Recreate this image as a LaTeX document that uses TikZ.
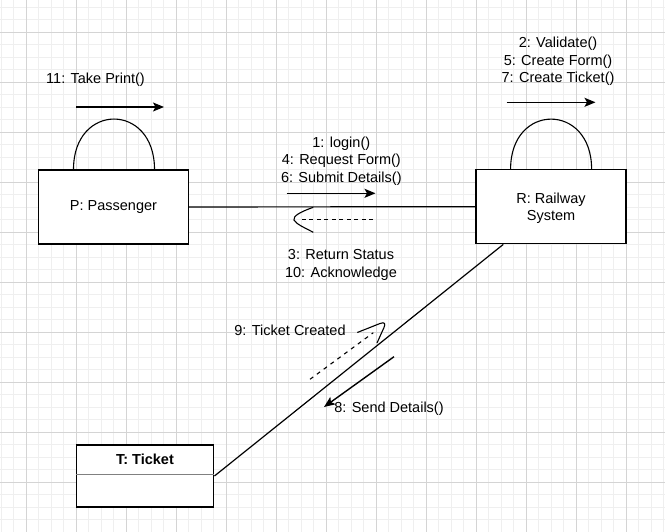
\documentclass[tikz,border=0pt]{standalone}
\usepackage{fontspec}
\setmainfont{Liberation Sans}
\usetikzlibrary{arrows.meta,positioning,calc}
\definecolor{gridminor}{HTML}{EFEFEF}
\definecolor{gridmajor}{HTML}{D4D4D4}
\newcommand{\msgfont}{\fontsize{14.5}{17.3}\selectfont}
\tikzset{
    object/.style={
        rectangle,
        draw,
        line width=1.4pt,
        fill=white,
        align=center,
        minimum width=150pt,
        minimum height=74pt,
        inner sep=0pt,
        font=\msgfont
    },
    msg/.style={
        -{Stealth[length=11pt,width=9pt,inset=2.5pt]},
        line width=1.4pt
    },
    reply/.style={
        line width=1.1pt,
        dash pattern=on 4pt off 3.5pt
    },
    lbl/.style={
        align=center,
        inner sep=0pt,
        font=\msgfont
    },
    link/.style={
        line width=1.2pt
    },
    selfloop/.style={
        line width=1.1pt
    }
}

\begin{document}
\begin{tikzpicture}[x=1pt, y=-1pt]
    \useasboundingbox (0,0) rectangle (665,532);
    \fill[white] (0,0) rectangle (665,532);
    \foreach \k in {0,...,53}
        \draw[gridminor, line width=1pt] ({1.3+12.5*\k},0) -- ++(0,532);
    \foreach \k in {0,...,41}
        \draw[gridminor, line width=1pt] (0,{7.3+12.5*\k}) -- ++(665,0);
    \foreach \k in {0,...,12}
        \draw[gridmajor, line width=1pt] ({26.3+50*\k},0) -- ++(0,532);
    \foreach \k in {0,...,9}
        \draw[gridmajor, line width=1pt] (0,{32.3+50*\k}) -- ++(665,0);

    \node[object] (pass) at (113.5,207) {P: Passenger};
    \node[object] (rail) at (551,206.7) {};
    \node[lbl] (rname) at (551,208.5) {R: Railway\\System};
    \node[object, minimum width=137.5pt, minimum height=62pt] (ticket) at (145,476) {};
    \node[lbl, font=\msgfont\bfseries] (tname) at (145,459) {T: Ticket};
    \coordinate (tdiv) at (0,474);
    \draw[gray, line width=1pt] (ticket.west |- tdiv) -- (ticket.east |- tdiv);

    \draw[link] (pass) -- (rail);
    \draw[link] ([xshift=28pt]rail.south west) -- (ticket.east);

    \draw[selfloop] ([xshift=-40pt]pass.north) .. controls +(0,-67) and +(0,-67) .. ([xshift=41pt]pass.north);
    \draw[selfloop] ([xshift=-40.4pt]rail.north) .. controls +(0,-66.5) and +(0,-66.5) .. ([xshift=40.6pt]rail.north);

    \coordinate (tp-s) at (76,107);
    \coordinate (tp-e) at (164,107);
    \draw[msg] (tp-s) -- (tp-e);
    \node[lbl] (tp-l) at (95.5,79.5) {11: Take Print()};

    \coordinate (rs-s) at (506.7,102.3);
    \coordinate (rs-e) at (595.5,102.3);
    \draw[msg] (rs-s) -- (rs-e);
    \node[lbl] (rs-l) at (558,61.5) {2: Validate()\\5: Create Form()\\7: Create Ticket()};

    \coordinate (lg-s) at (286.7,193.3);
    \coordinate (lg-e) at (375.5,193.3);
    \draw[msg] (lg-s) -- (lg-e);
    \node[lbl] (lg-l) at (341.3,161) {1: login()\\4: Request Form()\\6: Submit Details()};

    \coordinate (rt-s) at (373,219.3);
    \coordinate (rt-e) at (302,219.3);
    \draw[reply] (rt-s) -- (rt-e);
    \draw[selfloop] (313.3,207.3) .. controls (300,212) and (293,216) .. (294,220)
        .. controls (296,224) and (305,228) .. (313.3,232.3);
    \node[lbl] (rt-l) at (341,265) {3: Return Status\\10: Acknowledge};

    \coordinate (tc-s) at (310,379.3);
    \coordinate (tc-e) at (373.3,332.7);
    \draw[reply, dash pattern=on 4pt off 4.5pt] (tc-s) -- (tc-e);
    \draw[selfloop] (357.3,332.5) -- (380,323.5) .. controls (385,321.5) and (385.5,324) .. (384,327.5) -- (377,343);
    \node[lbl] (tc-l) at (290,330.5) {9: Ticket Created};

    \coordinate (sd-s) at (394,356.7);
    \coordinate (sd-e) at (324,407);
    \draw[msg] (sd-s) -- (sd-e);
    \node[lbl] (sd-l) at (389,409) {8: Send Details()};
\end{tikzpicture}
\end{document}
